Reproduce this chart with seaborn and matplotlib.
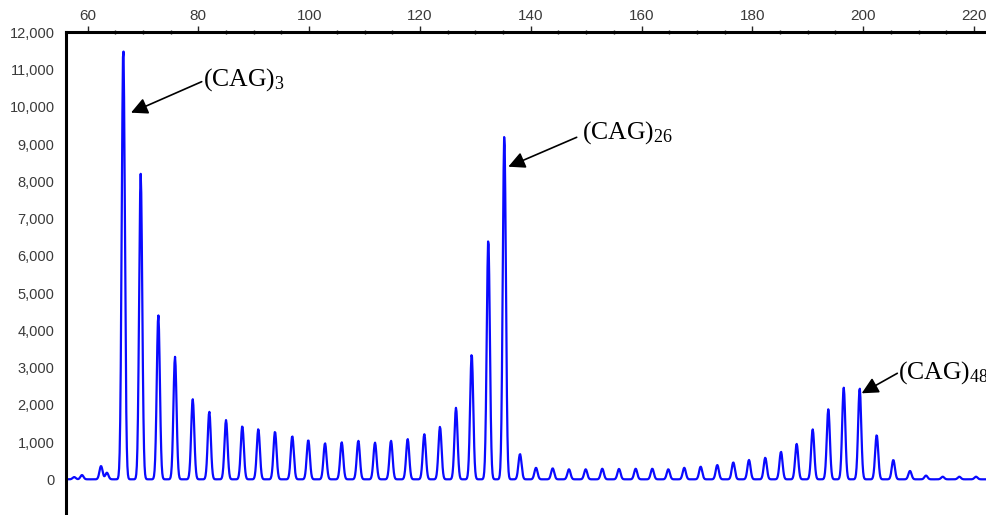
import numpy as np
import pandas as pd
import matplotlib
matplotlib.use('Agg')
import matplotlib.pyplot as plt
from matplotlib.ticker import MultipleLocator, FuncFormatter
import seaborn as sns

# peak positions (bp) and heights (RFU)
peak_bp = [66.46, 69.60, 72.78, 75.79, 78.99, 81.98, 85.00, 87.94, 90.83, 93.84,
           96.96, 99.85, 102.87, 105.88, 108.88, 111.89, 114.78, 117.79, 120.79, 123.62,
           126.51, 129.34, 132.34, 135.23, 138.06, 140.95, 143.96, 146.90, 149.92, 152.91,
           155.93, 158.94, 161.94, 164.83, 167.71, 170.67, 173.67, 176.56, 179.39, 182.33,
           185.17, 188.00, 190.89, 193.71, 196.49, 199.37, 202.44, 205.44, 208.45, 211.34,
           214.35, 217.35, 220.36]
peak_height = [11600, 8200, 4410, 3290, 2150, 1815, 1590, 1430, 1350, 1280,
               1160, 1055, 970, 995, 1035, 985, 1035, 1080, 1210, 1410,
               1920, 3365, 6450, 9240, 680, 310, 295, 270, 270, 285,
               280, 285, 285, 270, 310, 340, 385, 455, 520, 580,
               740, 950, 1340, 1880, 2460, 2445, 1190, 520, 225, 100,
               70, 70, 70]
# small primer / noise bumps before the ladder
noise_bp = [57.6, 59.0, 62.44, 63.5]
noise_height = [60, 115, 357, 177]

labels = ['(CAG)$_{3}$', '(CAG)$_{26}$', '(CAG)$_{48}$']
label_xy = [(80.84, 10558), (149.2, 9154), (206.34, 2711)]
arrow_tail = [(80.61, 10674), (148.29, 9181), (206.16, 2846)]
arrow_tip = [(67.85, 9842), (135.95, 8392), (199.73, 2309)]

# build the trace from the peak table
size = np.arange(56.0, 222.4, 0.1)
sigma = 0.28
rfu = np.zeros_like(size)
for p, h in zip(peak_bp + noise_bp, peak_height + noise_height):
    rfu += h * np.exp(-0.5 * ((size - p) / sigma) ** 2)
df = pd.DataFrame({'size': size, 'rfu': rfu})

sns.set_style('white')
plt.rcParams['font.family'] = ['Liberation Sans', 'DejaVu Sans']
plt.rcParams['mathtext.fontset'] = 'custom'
plt.rcParams['mathtext.rm'] = 'Liberation Serif'
plt.rcParams['mathtext.it'] = 'Liberation Serif'

fig = plt.figure(figsize=(9.87, 5.15), dpi=100)
ax = fig.add_axes([0.0666, 0.0, 0.9334, 0.9373])

sns.lineplot(data=df, x='size', y='rfu', ax=ax, color='#0a0aff', linewidth=1.6)

ax.set_xlim(56.07, 222.35)
ax.set_ylim(-958, 12000)
ax.set_xlabel('')
ax.set_ylabel('')

ax.xaxis.tick_top()
ax.xaxis.set_major_locator(MultipleLocator(20))
ax.xaxis.set_minor_locator(MultipleLocator(5))
ax.yaxis.set_major_locator(MultipleLocator(1000))
ax.yaxis.set_minor_locator(MultipleLocator(200))
ax.yaxis.set_major_formatter(FuncFormatter(lambda v, pos: f'{int(v):,}'))

ax.tick_params(axis='x', which='major', direction='out', length=4, width=1,
               labelsize=11, labelcolor='#3a3a3a', pad=3, top=True, bottom=False)
ax.tick_params(axis='x', which='minor', direction='inout', length=3, width=1,
               top=True, bottom=False)
ax.tick_params(axis='y', which='major', direction='out', length=6, width=1,
               labelsize=10.5, labelcolor='#3a3a3a', pad=2)
ax.tick_params(axis='y', which='minor', direction='out', length=3.5, width=1)

for side in ['right', 'bottom']:
    ax.spines[side].set_visible(False)
for side in ['top', 'left']:
    ax.spines[side].set_linewidth(2.2)
    ax.spines[side].set_color('black')

for lab, pos, tail, tip in zip(labels, label_xy, arrow_tail, arrow_tip):
    ax.annotate('', xy=tip, xytext=tail,
                arrowprops=dict(arrowstyle='-|>', color='black', lw=1.2,
                                mutation_scale=25, shrinkA=0, shrinkB=0))
    ax.text(pos[0], pos[1], lab, fontsize=18.5, family='Liberation Serif',
            ha='left', va='baseline', color='black', clip_on=False)

fig.savefig('out.png', dpi=100)
